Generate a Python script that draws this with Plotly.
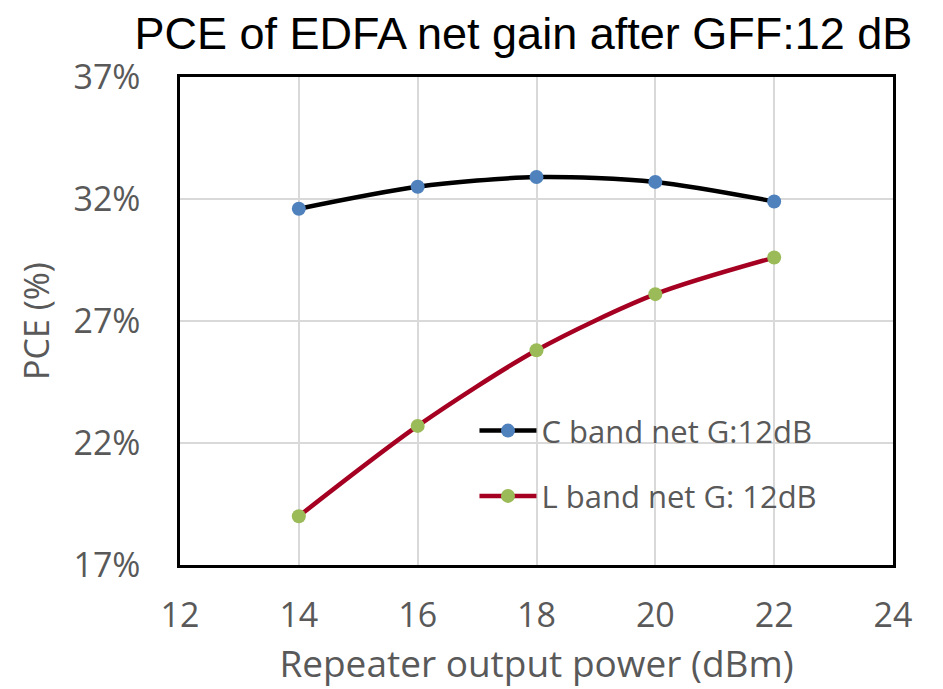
import plotly.graph_objects as go

# Repeater output power (dBm)
power = [14, 16, 18, 20, 22]
# Power conversion efficiency (%)
pce_c_band = [31.6, 32.5, 32.9, 32.7, 31.9]
pce_l_band = [19.0, 22.7, 25.8, 28.1, 29.6]

y_ticks = [17, 22, 27, 32, 37]
y_tick_text = ["17%", "22%", "27%", "32%", "37%"]
x_ticks = [12, 14, 16, 18, 20, 22, 24]

axis_font = dict(family="Open Sans, Lato, sans-serif", size=34, color="#595959")
xtitle_font = dict(family="Open Sans, Lato, sans-serif", size=37, color="#595959")
legend_font = dict(family="Open Sans, Lato, sans-serif", size=31, color="#595959")

fig = go.Figure()
fig.add_trace(go.Scatter(
    x=power, y=pce_c_band, mode="lines+markers", name="C band net G:12dB",
    line=dict(color="black", width=4.5, shape="spline", smoothing=0.8),
    marker=dict(color="#4f81bd", size=14), legendgroup="c",
))
fig.add_trace(go.Scatter(
    x=power, y=pce_l_band, mode="lines+markers", name="L band net G: 12dB",
    line=dict(color="#a50021", width=4.5, shape="spline", smoothing=0.8),
    marker=dict(color="#9bbb59", size=14), legendgroup="l",
))

fig.update_layout(
    width=943, height=689,
    margin=dict(l=180, r=50, t=77, b=124),
    paper_bgcolor="white", plot_bgcolor="white",
    title=dict(
        text="PCE of EDFA net gain after GFF:12 dB",
        font=dict(family="Liberation Sans, Arial, sans-serif", size=45, color="black"),
        x=0.555, xanchor="center", y=0.975, yanchor="top",
    ),
    showlegend=True,
    legend=dict(
        x=0.413, y=0.33, xanchor="left", yanchor="top",
        font=legend_font, bgcolor="rgba(0,0,0,0)",
        tracegroupgap=22, traceorder="grouped", itemwidth=57,
    ),
)

fig.update_xaxes(
    range=[12, 24], tickvals=x_ticks, tickfont=axis_font,
    showgrid=True, gridcolor="#d9d9d9", gridwidth=2,
    showline=True, linecolor="black", linewidth=2.5, mirror=True,
    ticks="", zeroline=False, ticklabelstandoff=18,
    title=dict(text="Repeater output power (dBm)", font=xtitle_font, standoff=4),
)
fig.update_yaxes(
    range=[17, 37], tickvals=y_ticks, ticktext=y_tick_text, tickfont=axis_font,
    showgrid=True, gridcolor="#d9d9d9", gridwidth=2,
    showline=True, linecolor="black", linewidth=2.5, mirror=True,
    ticks="", zeroline=False, ticklabelstandoff=30,
    title=dict(text="PCE (%)", font=axis_font, standoff=14),
)

fig.write_html("out.html")
